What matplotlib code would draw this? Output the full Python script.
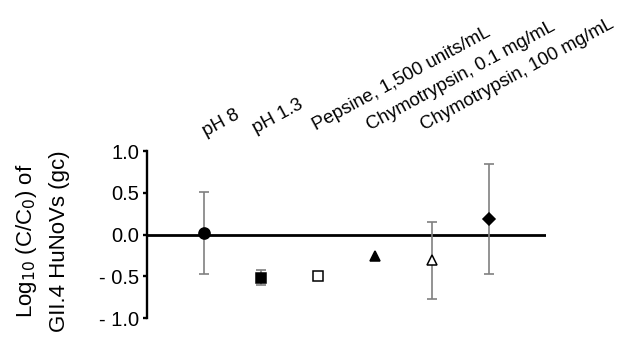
import numpy as np
from matplotlib import pyplot as plt

plt.rcParams['font.family'] = ['Liberation Sans', 'DejaVu Sans']

# data
conditions = ["pH 8", "pH 1.3", "Pepsine, 1,500 units/mL",
              "Chymotrypsin, 0.1 mg/mL", "Chymotrypsin, 100 mg/mL"]
positions = [1, 2, 3, 4, 5, 6]
log_values = [0.02, -0.52, -0.50, -0.26, -0.31, 0.19]
log_errors = [0.49, 0.09, 0.0, 0.0, 0.46, 0.66]
markers = ["o", "s", "s", "^", "^", "D"]
faces = ["black", "black", "white", "black", "white", "black"]
sizes = [8, 7, 7, 7.5, 7.5, 6.5]

yticks = [-1.0, -0.5, 0.0, 0.5, 1.0]
ytick_labels = ["- 1.0", "- 0.5", "0.0", "0.5", "1.0"]

# label anchor positions (x in data units, bottom left of rotated text)
label_x = [1.07, 1.94, 3.00, 3.94, 4.90]
label_y = [1.13, 1.17, 1.21, 1.21, 1.21]

fig = plt.figure(figsize=(6.18, 3.38), dpi=100)
ax = fig.add_axes([0.2385, 0.059, 0.6445, 0.494])

ax.axhline(0, color="black", linewidth=2.0, zorder=1)

for x, y, e, m, fc, s in zip(positions, log_values, log_errors, markers, faces, sizes):
    if e > 0:
        ax.errorbar(x, y, yerr=e, fmt="none", ecolor="#808080",
                    elinewidth=1.2, capsize=3.5, capthick=1.2, zorder=2)
    ax.plot(x, y, marker=m, markersize=s, markerfacecolor=fc,
            markeredgecolor="black", markeredgewidth=1.1,
            linestyle="none", zorder=3)

for txt, lx, ly in zip(conditions, label_x, label_y):
    ax.text(lx, ly, txt, rotation=28.5, rotation_mode="anchor",
            ha="left", va="bottom", fontsize=13.4, clip_on=False)

ax.set_xlim(0, 7)
ax.set_ylim(-1.0, 1.0)
ax.set_yticks(yticks)
ax.set_yticklabels(ytick_labels, fontsize=14.5)
ax.set_xticks([])

for side in ["top", "right", "bottom"]:
    ax.spines[side].set_visible(False)
ax.spines["left"].set_linewidth(1.7)
ax.tick_params(axis="y", direction="out", length=3, width=1.7, pad=3)

fig.text(0.068, 0.287, "Log$_{10}$ (C/C$_0$) of\nGII.4 HuNoVs (gc)",
         rotation=90, ha="center", va="center", fontsize=16,
         linespacing=1.6)

fig.savefig("out.png", dpi=100)
